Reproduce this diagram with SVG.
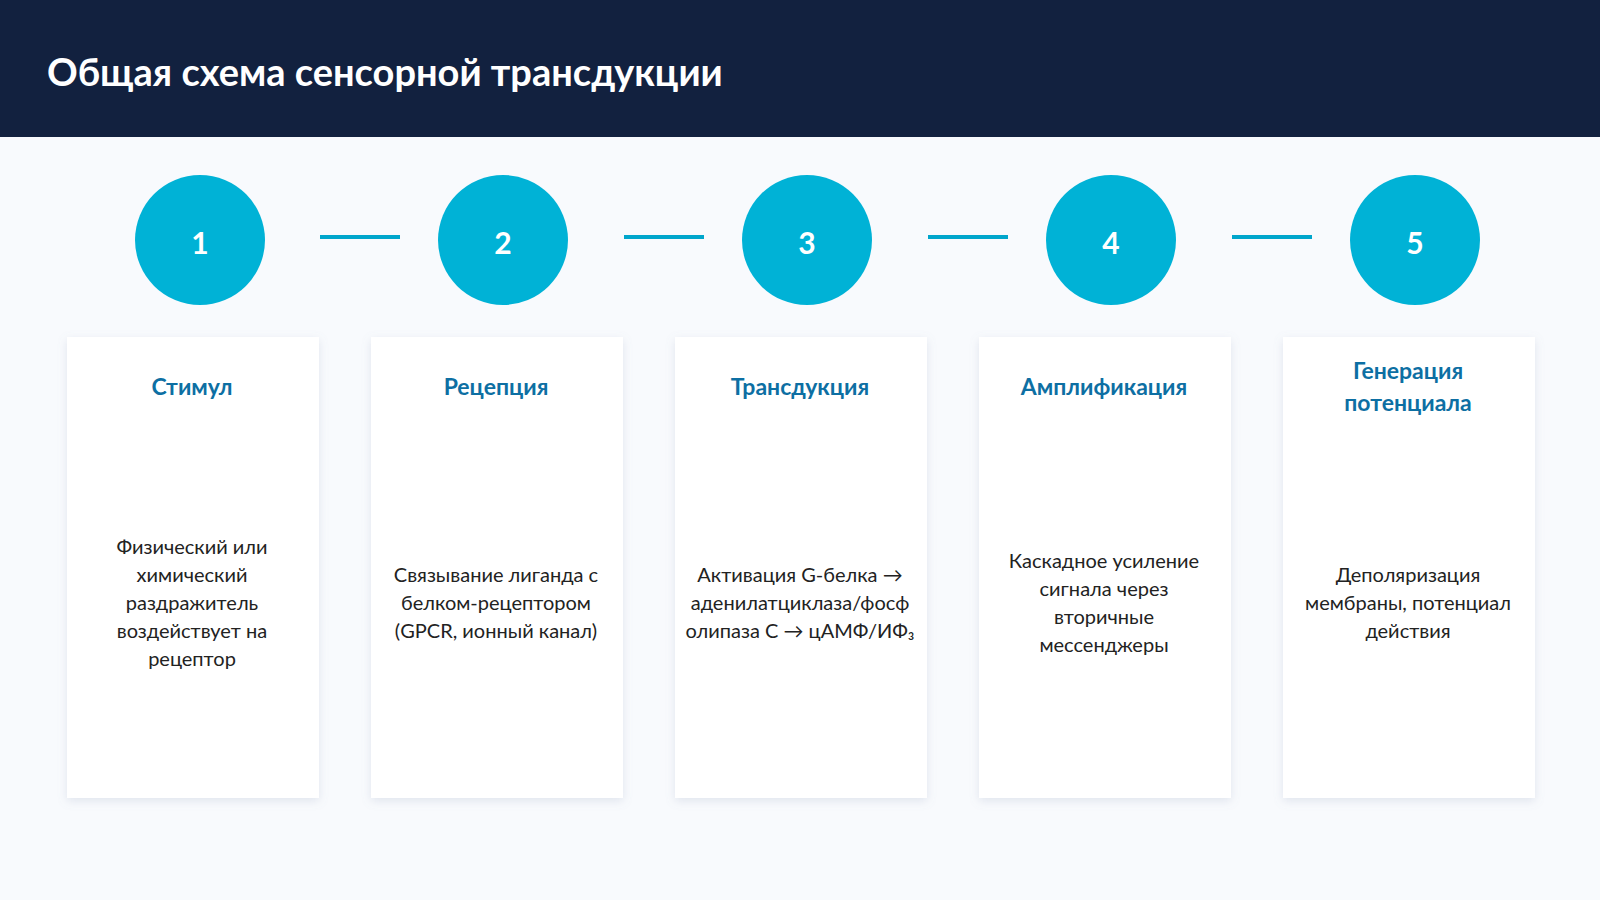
<svg xmlns="http://www.w3.org/2000/svg" width="1600" height="900" viewBox="0 0 1600 900">
<defs>
<style>
.t{font-family:Lato,"Noto Sans","Liberation Sans",sans-serif}
.num{fill:#fff;font-size:30px;font-weight:bold;text-anchor:middle;dominant-baseline:central}
.ct{fill:#0d6fa3;font-size:23px;font-weight:bold;text-anchor:middle;dominant-baseline:central}
.cb{fill:#222;font-size:20px;text-anchor:middle;dominant-baseline:central}
.circ{fill:#00b2d6}
.card{fill:#fff;filter:url(#sh)}
.ln{stroke:#00a6cc;stroke-width:4}
</style>
<filter id="sh" x="-10%" y="-10%" width="120%" height="120%"><feDropShadow dx="0" dy="3" stdDeviation="5" flood-color="#8090b0" flood-opacity="0.2"/></filter>
</defs>
<rect width="1600" height="900" fill="#f8fafd"/>
<rect width="1600" height="137" fill="#12213f"/>
<text class="t" x="47" y="71" fill="#fff" font-size="38" font-weight="bold" dominant-baseline="central">Общая схема сенсорной трансдукции</text>
<g id="connectors">
<line class="ln" x1="320" y1="237" x2="400" y2="237"/>
<line class="ln" x1="624" y1="237" x2="704" y2="237"/>
<line class="ln" x1="928" y1="237" x2="1008" y2="237"/>
<line class="ln" x1="1232" y1="237" x2="1312" y2="237"/>
</g>
<g id="n1" class="t"><circle class="circ" cx="200" cy="240" r="65"/><text class="num" x="200" y="242">1</text>
<rect class="card" x="67" y="337" width="252" height="461"/><text class="ct" x="192" y="386">Стимул</text>
<text class="cb" x="192"><tspan x="192" y="546">Физический или</tspan><tspan x="192" y="574">химический</tspan><tspan x="192" y="602">раздражитель</tspan><tspan x="192" y="630">воздействует на</tspan><tspan x="192" y="658">рецептор</tspan></text></g>
<g id="n2" class="t"><circle class="circ" cx="503" cy="240" r="65"/><text class="num" x="503" y="242">2</text>
<rect class="card" x="371" y="337" width="252" height="461"/><text class="ct" x="496" y="386">Рецепция</text>
<text class="cb"><tspan x="496" y="574">Связывание лиганда с</tspan><tspan x="496" y="602">белком-рецептором</tspan><tspan x="496" y="630">(GPCR, ионный канал)</tspan></text></g>
<g id="n3" class="t"><circle class="circ" cx="807" cy="240" r="65"/><text class="num" x="807" y="242">3</text>
<rect class="card" x="675" y="337" width="252" height="461"/><text class="ct" x="800" y="386">Трансдукция</text>
<text class="cb"><tspan x="800" y="574">Активация G-белка →</tspan><tspan x="800" y="602">аденилатциклаза/фосф</tspan><tspan x="800" y="630">олипаза C → цАМФ/ИФ₃</tspan></text></g>
<g id="n4" class="t"><circle class="circ" cx="1111" cy="240" r="65"/><text class="num" x="1111" y="242">4</text>
<rect class="card" x="979" y="337" width="252" height="461"/><text class="ct" x="1104" y="386">Амплификация</text>
<text class="cb"><tspan x="1104" y="560">Каскадное усиление</tspan><tspan x="1104" y="588">сигнала через</tspan><tspan x="1104" y="616">вторичные</tspan><tspan x="1104" y="644">мессенджеры</tspan></text></g>
<g id="n5" class="t"><circle class="circ" cx="1415" cy="240" r="65"/><text class="num" x="1415" y="242">5</text>
<rect class="card" x="1283" y="337" width="252" height="461"/><text class="ct"><tspan x="1408" y="370">Генерация</tspan><tspan x="1408" y="402">потенциала</tspan></text>
<text class="cb"><tspan x="1408" y="574">Деполяризация</tspan><tspan x="1408" y="602">мембраны, потенциал</tspan><tspan x="1408" y="630">действия</tspan></text></g>
</svg>
